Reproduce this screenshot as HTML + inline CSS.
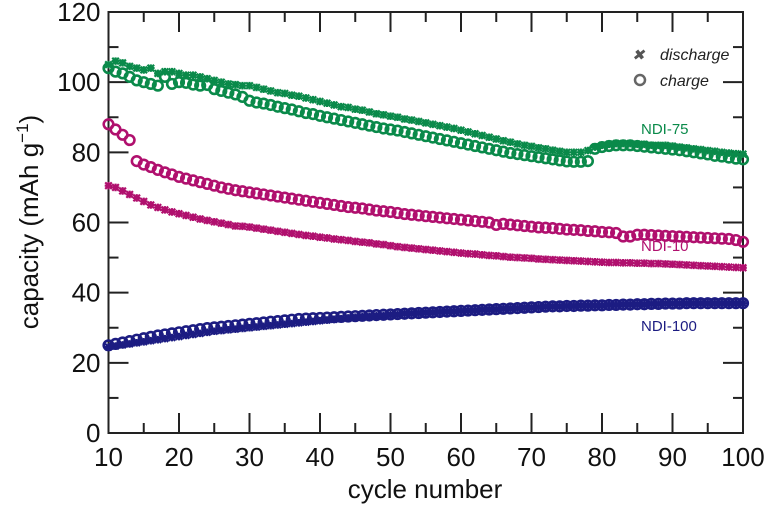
<!DOCTYPE html>
<html><head><meta charset="utf-8"><style>
body{margin:0;background:#fff}
svg{display:block;font-family:"Liberation Sans",Arial,sans-serif}
</style></head><body>
<svg id="chart" width="768" height="505" viewBox="0 0 768 505">
<g id="axes"></g><g id="marks"></g>
<g>
<text x="632" y="60" font-size="15" font-style="italic" fill="#555">✖</text>
<text x="660" y="60" font-size="16" font-style="italic" fill="#222">discharge</text>
<circle cx="640" cy="80" r="5" fill="none" stroke="#666" stroke-width="2.5"/>
<text x="660" y="86" font-size="16" font-style="italic" fill="#222">charge</text>
</g>
<text x="641" y="134" font-size="15" fill="#0a8a4a">NDI-75</text>
<text x="641" y="251" font-size="15" fill="#b0106e">NDI-10</text>
<text x="641" y="331" font-size="15" fill="#1c1c82">NDI-100</text>
<text transform="translate(38,222) rotate(-90)" text-anchor="middle" font-size="26" fill="#111">capacity (mAh g<tspan dy="-10" font-size="17">−1</tspan><tspan dy="10">)</tspan></text>
<text x="425" y="498" text-anchor="middle" font-size="26" fill="#111">cycle number</text>
</svg>
<script>
const xTicks=[10,20,30,40,50,60,70,80,90,100];
const yTicks=[0,20,40,60,80,100,120];
const n75d=[105,106,105.5,104.5,104,103.5,104,102.5,103,103,102.5,102,102,101.5,101,100.5,100,99.5,99.3,99,99,98.5,98,97.5,97,96.8,96.3,96,95.5,95,94.5,94,93.5,93,92.8,92.3,92,91.5,91,90.7,90.3,90,89.5,89.2,88.8,88.4,88,87.6,87.2,86.8,86.3,85.8,85.3,84.8,84.3,83.8,83.3,82.9,82.4,82,81.7,81.3,81,80.6,80.3,80,80,80,80.5,81.5,82,82.3,82.5,82.5,82.5,82.3,82.3,82,82,82,81.8,81.5,81.3,81,80.8,80.5,80.3,80,79.8,79.6,79.5];
const n75c=[104,103,102.5,101.5,100.5,100,99.5,99,101.5,99.5,100,99.8,99.3,99,99.2,98,97.5,97,96.5,95.8,94.7,94.2,93.9,93.5,93,92.6,92.2,91.7,91.2,90.9,90.4,90,89.6,89.2,88.8,88.4,88,87.6,87.2,86.8,86.5,86.2,85.8,85.4,85,84.6,84.2,83.8,83.4,83,82.6,82.2,81.8,81.4,81,80.6,80.2,79.8,79.5,79.2,78.9,78.6,78.3,78,77.7,77.4,77.3,77.3,77.5,81,81.5,81.8,82,82,82,81.8,81.6,81.4,81.2,81,80.8,80.6,80.3,80,79.7,79.4,79,78.8,78.5,78.2,78];
const n10c=[88,86.5,85,83.5,77.5,76.5,75.8,75,74.3,73.7,73,72.5,72,71.5,71,70.5,70,69.6,69.2,68.9,68.6,68.3,68,67.7,67.4,67.1,66.8,66.5,66.2,65.9,65.6,65.3,65,64.7,64.4,64.2,64,63.7,63.4,63.2,63,62.7,62.4,62.2,62,61.8,61.6,61.4,61.2,61,60.8,60.6,60.4,60.2,60,59.3,59.6,59.4,59.2,59,58.8,58.6,58.5,58.4,58.2,58,57.9,57.8,57.6,57.5,57.3,57.2,57,56,56,56.5,56.5,56.4,56.3,56.2,56.1,56,55.9,55.8,55.7,55.6,55.5,55.4,55.3,55,54.5];
const n10d=[70.5,70,69,68,67,66,65,64.3,63.6,63,62.5,62,61.5,61,60.6,60.2,59.8,59.4,59,58.9,58.7,58.4,58.1,57.8,57.5,57.2,56.9,56.6,56.3,56.1,55.8,55.6,55.3,55.1,54.9,54.6,54.4,54.2,53.9,53.7,53.4,53.1,52.9,52.7,52.5,52.3,52.1,51.9,51.7,51.5,51.3,51.1,51,50.8,50.6,50.5,50.3,50.1,50,49.9,49.8,49.6,49.5,49.4,49.3,49.2,49.1,49,48.9,48.8,48.7,48.6,48.6,48.5,48.5,48.4,48.4,48.3,48.3,48.2,48.1,48,47.9,47.8,47.7,47.6,47.5,47.4,47.3,47.2,47.1];
const n100c=[25,25.4,25.8,26.2,26.6,27,27.4,27.8,28.1,28.4,28.7,29,29.3,29.6,29.9,30.1,30.3,30.5,30.7,30.9,31.1,31.3,31.5,31.7,31.9,32.1,32.3,32.5,32.6,32.7,32.8,32.9,33,33.1,33.2,33.3,33.4,33.5,33.6,33.7,33.8,33.9,34,34.1,34.2,34.3,34.4,34.5,34.6,34.7,34.8,34.9,35,35.1,35.2,35.3,35.4,35.5,35.6,35.7,35.8,35.9,36,36.1,36.1,36.2,36.2,36.3,36.3,36.4,36.4,36.5,36.5,36.6,36.6,36.7,36.7,36.8,36.8,36.9,36.9,36.9,37,37,37,37,37,37,37,37,37];
const n100d=[24.5,24.8,25.1,25.4,25.7,26,26.3,26.6,26.9,27.2,27.5,27.8,28.1,28.4,28.7,29,29.2,29.4,29.6,29.8,30,30.2,30.4,30.6,30.8,31,31.2,31.4,31.6,31.8,32,32.2,32.4,32.6,32.8,33,33.2,33.3,33.4,33.5,33.7,33.8,34,34.1,34.2,34.3,34.4,34.5,34.6,34.7,34.8,34.9,35,35.1,35.2,35.3,35.4,35.5,35.6,35.7,35.8,35.9,36,36.1,36.1,36.2,36.2,36.3,36.3,36.4,36.4,36.5,36.5,36.6,36.6,36.7,36.7,36.8,36.8,36.9,36.9,36.9,37,37,37,37,37,37,37,37,37];
const X0=108.5,X1=743,Y0=433,Y1=12;
const sx=v=>X0+(v-10)/90*(X1-X0);
const sy=v=>Y0-v/120*(Y0-Y1);
const NS="http://www.w3.org/2000/svg";
const axes=document.getElementById('axes'),marks=document.getElementById('marks');
function mk(tag,attrs,parent){const e=document.createElementNS(NS,tag);for(const k in attrs)e.setAttribute(k,attrs[k]);parent.appendChild(e);return e;}
const frame=mk('rect',{x:X0,y:Y1,width:X1-X0,height:Y0-Y1,fill:'none',stroke:'#222','stroke-width':2},axes);


xTicks.forEach(t=>{const x=sx(t);
 const l=mk('line',{x1:x,x2:x,y1:Y0,y2:Y0-20,stroke:'#222','stroke-width':2},axes);
 
 
 mk('line',{x1:x,x2:x,y1:Y1,y2:Y1+20,stroke:'#222','stroke-width':2},axes);
 if(t<100){const xm=sx(t+5);mk('line',{x1:xm,x2:xm,y1:Y0,y2:Y0-10,stroke:'#222','stroke-width':2},axes);mk('line',{x1:xm,x2:xm,y1:Y1,y2:Y1+10,stroke:'#222','stroke-width':2},axes);}
 const tx=mk('text',{x:x,y:Y0+33,'text-anchor':'middle','font-size':26,fill:'#111'},axes);tx.textContent=t;
 
 
});
yTicks.forEach(t=>{const y=sy(t);
 const l=mk('line',{x1:X0,x2:X0+20,y1:y,y2:y,stroke:'#222','stroke-width':2},axes);
 
 
 mk('line',{x1:X1,x2:X1-20,y1:y,y2:y,stroke:'#222','stroke-width':2},axes);
 if(t<120){const ym=sy(t+10);mk('line',{x1:X0,x2:X0+10,y1:ym,y2:ym,stroke:'#222','stroke-width':2},axes);mk('line',{x1:X1,x2:X1-10,y1:ym,y2:ym,stroke:'#222','stroke-width':2},axes);}
 const tx=mk('text',{x:X0-8,y:y+9,'text-anchor':'end','font-size':26,fill:'#111'},axes);tx.textContent=t;
 
 
});
function circles(arr,col,name){const g=mk('g',{},marks);
 
 
 arr.forEach((v,i)=>{mk('circle',{cx:sx(10+i),cy:sy(v),r:4.8,fill:'none',stroke:col,'stroke-width':2.6},g);});}
function stars(arr,col,name){const g=mk('g',{},marks);
 
 
 arr.forEach((v,i)=>{const x=sx(10+i),y=sy(v),s=3.3;
  mk('path',{d:`M${x-s},${y-s}L${x+s},${y+s}M${x-s},${y+s}L${x+s},${y-s}M${x-s-0.5},${y}L${x+s+0.5},${y}M${x},${y-s-0.5}L${x},${y+s+0.5}`,stroke:col,'stroke-width':2.2},g);});}
stars(n75d,'#0a8a4a','ndi75-discharge');
circles(n75c,'#0a8a4a','ndi75-charge');
stars(n10d,'#b0106e','ndi10-discharge');
circles(n10c,'#b0106e','ndi10-charge');
stars(n100d,'#1c1c82','ndi100-discharge');
circles(n100c,'#1c1c82','ndi100-charge');
</script>
</body></html>
